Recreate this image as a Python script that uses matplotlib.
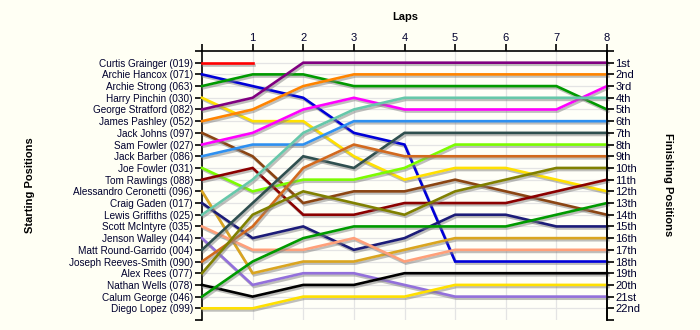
import matplotlib
matplotlib.use("Agg")
import matplotlib.pyplot as plt
import matplotlib.patheffects as pe

plt.rcParams['font.family'] = ['Liberation Sans', 'DejaVu Sans']

# starting grid, top to bottom
drivers = [
    "Curtis Grainger (019)", "Archie Hancox (071)", "Archie Strong (063)",
    "Harry Pinchin (030)", "George Stratford (082)", "James Pashley (052)",
    "Jack Johns (097)", "Sam Fowler (027)", "Jack Barber (086)",
    "Joe Fowler (031)", "Tom Rawlings (088)", "Alessandro Ceronetti (096)",
    "Craig Gaden (017)", "Lewis Griffiths (025)", "Scott McIntyre (035)",
    "Jenson Walley (044)", "Matt Round-Garrido (004)", "Joseph Reeves-Smith (090)",
    "Alex Rees (077)", "Nathan Wells (078)", "Calum George (046)",
    "Diego Lopez (099)",
]
finish_labels = ["1st", "2nd", "3rd", "4th", "5th", "6th", "7th", "8th", "9th",
                 "10th", "11th", "12th", "13th", "14th", "15th", "16th", "17th",
                 "18th", "19th", "20th", "21st", "22nd"]
laps = [0, 1, 2, 3, 4, 5, 6, 7, 8]

# position at each lap (lap 0 = grid slot)
pos_red = [1, 1]
pos_blue = [2, 3, 4, 7, 8, 18, 18, 18, 18]
pos_green = [3, 2, 2, 3, 3, 3, 3, 3, 5]
pos_yellow = [4, 6, 6, 9, 11, 10, 10, 11, 12]
pos_purple = [5, 4, 1, 1, 1, 1, 1, 1, 1]
pos_orange = [6, 5, 3, 2, 2, 2, 2, 2, 2]
pos_brown = [7, 9, 13, 12, 12, 11, 12, 13, 14]
pos_magenta = [8, 7, 5, 4, 5, 5, 5, 5, 3]
pos_skyblue = [9, 8, 8, 6, 6, 6, 6, 6, 6]
pos_lime = [10, 12, 11, 11, 10, 8, 8, 8, 8]
pos_darkred = [11, 10, 14, 14, 13, 13, 13, 12, 11]
pos_goldenrod = [12, 19, 18, 18, 17, 16, 16, 16, 16]
pos_navy = [13, 16, 15, 17, 16, 14, 14, 15, 15]
pos_aqua = [14, 11, 7, 5, 4, 4, 4, 4, 4]
pos_salmon = [15, 17, 17, 16, 18, 17, 17, 17, 17]
pos_lavender = [16, 20, 19, 19, 20, 21, 21, 21, 21]
pos_slate = [17, 13, 9, 10, 7, 7, 7, 7, 7]
pos_chocolate = [18, 15, 10, 8, 9, 9, 9, 9, 9]
pos_olive = [19, 14, 12, 13, 14, 12, 11, 10, 10]
pos_black = [20, 21, 20, 20, 19, 19, 19, 19, 19]
pos_forest = [21, 18, 16, 15, 15, 15, 15, 14, 13]
pos_gold = [22, 22, 21, 21, 21, 20, 20, 20, 20]

series = [
    (pos_red, "#ff0000"), (pos_blue, "#0000d8"), (pos_green, "#009a00"),
    (pos_yellow, "#ffe000"), (pos_purple, "#800080"), (pos_orange, "#ff8400"),
    (pos_brown, "#8b4513"), (pos_magenta, "#ff00ff"), (pos_skyblue, "#2e90f0"),
    (pos_lime, "#7cfc00"), (pos_darkred, "#8b0000"), (pos_goldenrod, "#daa520"),
    (pos_navy, "#1c1c78"), (pos_aqua, "#66c8aa"), (pos_salmon, "#ffa07a"),
    (pos_lavender, "#9370db"), (pos_slate, "#2f4f4f"), (pos_chocolate, "#d2691e"),
    (pos_olive, "#808000"), (pos_black, "#000000"), (pos_forest, "#009a00"),
    (pos_gold, "#ffe000"),
]

bg = "#fffff4"
txt = "#00002e"

fig = plt.figure(figsize=(7, 3.3), dpi=100, facecolor=bg)
ax = fig.add_axes([202 / 700, 1 - 320 / 330, 405 / 700, 269 / 330])
ax.set_facecolor("#fffff8")

for y in range(1, 23):
    ax.axhline(y, color="#e4e4e4", lw=0.9, zorder=0)
for x in laps[1:-1]:
    ax.axvline(x, color="#e4e4e4", lw=0.9, zorder=0)

shadow = [pe.SimpleLineShadow(offset=(1.0, -1.5), shadow_color="#808080", alpha=0.5),
          pe.Normal()]
for pos, col in series:
    ax.plot(laps[:len(pos)], pos, color=col, lw=1.9, solid_joinstyle="miter",
            path_effects=shadow, zorder=3, clip_on=False)

ax.set_xlim(0, 8)
ax.set_ylim(23, 0)

ax.spines["bottom"].set_visible(False)
for s in ("left", "right", "top"):
    ax.spines[s].set_linewidth(1.2)

ax.xaxis.tick_top()
ax.set_xticks(laps)
ax.set_xticklabels([""] + [str(l) for l in laps[1:]])
ax.tick_params(axis="x", direction="out", length=5, width=1.2, pad=1,
               labelsize=8, labelcolor=txt)

ax.set_yticks(range(0, 24))
ax.set_yticklabels([""] + drivers + [""])
ax.tick_params(axis="y", direction="out", length=5, width=1.2, pad=1.5,
               labelsize=7.2, labelcolor=txt)

ax2 = ax.twinx()
ax2.set_ylim(23, 0)
ax2.set_yticks(range(0, 24))
ax2.set_yticklabels([""] + finish_labels + [""])
ax2.tick_params(axis="y", direction="out", length=5, width=1.2, pad=1,
                labelsize=8, labelcolor=txt)
for s in ("left", "bottom", "top"):
    ax2.spines[s].set_visible(False)
ax2.spines["right"].set_linewidth(1.2)

fig.text(405 / 700, 1 - 17 / 330, "Laps", ha="center", va="center",
         fontsize=8, fontweight="bold", color="black")
fig.text(30 / 700, 1 - 185 / 330, "Starting Positions", ha="center", va="center",
         rotation=90, fontsize=8, fontweight="bold", color="black")
fig.text(668 / 700, 1 - 185 / 330, "Finishing Positions", ha="center", va="center",
         rotation=-90, fontsize=8, fontweight="bold", color="black")

fig.savefig("out.png", dpi=100, facecolor=bg)
